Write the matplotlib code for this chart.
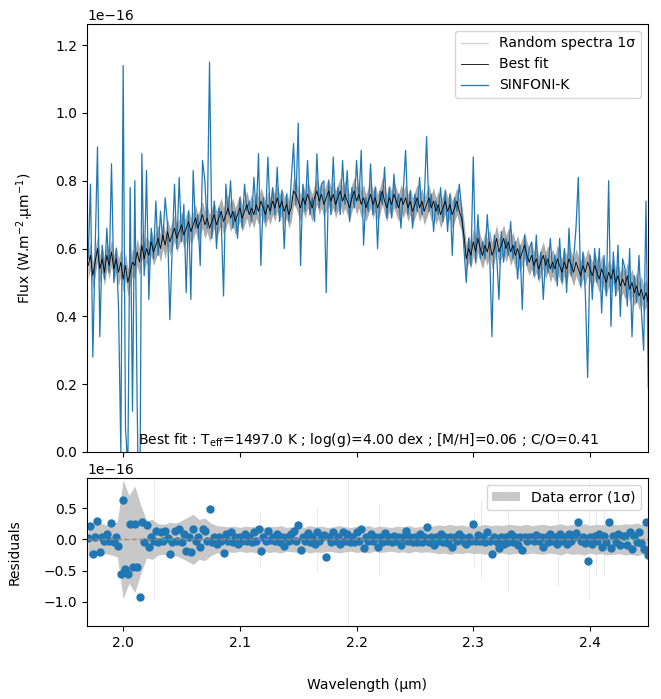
import numpy as np
import matplotlib.pyplot as plt
from matplotlib.lines import Line2D

# wavelength grid of the spectrum (um), 0.002 um sampling
wavelength = np.round(np.arange(1.970, 2.4505, 0.002), 3)

# observed SINFONI-K flux, in units of 1e-16 W.m-2.um-1
flux = [
    0.57, 0.79, 0.28, 0.60, 0.90, 0.34, 0.61, 0.51, 0.66, 0.53,
    0.85, 0.50, 0.60, 0.43, 0.00, 1.14, 0.07, -0.05, 0.78, 0.12,
    0.80, 0.14, -0.36, 0.88, 0.52, 0.83, 0.45, 0.66, 0.57, 0.74,
    0.58, 0.71, 0.62, 0.75, 0.67, 0.39, 0.60, 0.79, 0.60, 0.81,
    0.62, 0.73, 0.47, 0.71, 0.45, 0.83, 0.66, 0.70, 0.55, 0.86,
    0.80, 0.66, 1.15, 0.63, 0.74, 0.60, 0.72, 0.69, 0.46, 0.79,
    0.70, 0.80, 0.66, 0.71, 0.63, 0.75, 0.66, 0.79, 0.71, 0.74,
    0.68, 0.81, 0.70, 0.88, 0.55, 0.75, 0.68, 0.87, 0.70, 0.78,
    0.70, 0.84, 0.68, 0.77, 0.60, 0.76, 0.68, 0.80, 0.91, 0.73,
    0.97, 0.55, 0.79, 0.71, 0.86, 0.70, 0.75, 0.68, 0.88, 0.72,
    0.79, 0.80, 0.47, 0.80, 0.70, 0.87, 0.71, 0.78, 0.70, 0.86,
    0.73, 0.83, 0.68, 0.78, 0.72, 0.86, 0.74, 0.89, 0.61, 0.75,
    0.71, 0.85, 0.70, 0.78, 0.60, 0.77, 0.73, 0.84, 0.69, 0.78,
    0.69, 0.82, 0.72, 0.76, 0.66, 0.77, 0.89, 0.70, 0.77, 0.66,
    0.76, 0.71, 0.81, 0.70, 0.74, 0.93, 0.71, 0.76, 0.65, 0.74,
    0.70, 0.78, 0.68, 0.77, 0.65, 0.76, 0.58, 0.75, 0.71, 0.79,
    0.72, 0.60, 0.50, 0.63, 0.55, 0.87, 0.56, 0.70, 0.57, 0.62,
    0.57, 0.70, 0.59, 0.34, 0.64, 0.58, 0.45, 0.65, 0.56, 0.63,
    0.58, 0.68, 0.57, 0.62, 0.51, 0.61, 0.42, 0.64, 0.55, 0.60,
    0.62, 0.52, 0.64, 0.51, 0.59, 0.45, 0.58, 0.53, 0.63, 0.53,
    0.58, 0.49, 0.63, 0.50, 0.60, 0.47, 0.66, 0.52, 0.57, 0.66,
    0.81, 0.49, 0.59, 0.47, 0.22, 0.58, 0.45, 0.60, 0.50, 0.60,
    0.41, 0.58, 0.46, 0.80, 0.37, 0.59, 0.46, 0.61, 0.40, 0.57,
    0.54, 0.43, 0.60, 0.34, 0.52, 0.44, 0.58, 0.42, 0.30, 0.74,
    0.19,
]

# best fit model on the same grid, 1e-16 units
best_fit = [
    0.55, 0.58, 0.52, 0.56, 0.60, 0.54, 0.57, 0.53, 0.58, 0.55,
    0.59, 0.54, 0.57, 0.53, 0.56, 0.51, 0.55, 0.50, 0.53, 0.56,
    0.55, 0.59, 0.56, 0.61, 0.57, 0.60, 0.58, 0.62, 0.59, 0.61,
    0.63, 0.60, 0.64, 0.61, 0.65, 0.62, 0.64, 0.66, 0.63, 0.65,
    0.67, 0.64, 0.66, 0.68, 0.65, 0.67, 0.69, 0.66, 0.68, 0.70,
    0.67, 0.69, 0.66, 0.68, 0.70, 0.67, 0.69, 0.71, 0.68, 0.70,
    0.72, 0.69, 0.71, 0.68, 0.70, 0.72, 0.69, 0.71, 0.73, 0.70,
    0.72, 0.70, 0.73, 0.71, 0.74, 0.72, 0.70, 0.73, 0.71, 0.74,
    0.72, 0.75, 0.72, 0.74, 0.71, 0.73, 0.70, 0.72, 0.77, 0.76,
    0.74, 0.72, 0.75, 0.73, 0.76, 0.74, 0.72, 0.75, 0.77, 0.74,
    0.76, 0.73, 0.75, 0.77, 0.74, 0.76, 0.73, 0.75, 0.77, 0.74,
    0.76, 0.74, 0.72, 0.75, 0.77, 0.74, 0.76, 0.73, 0.75, 0.72,
    0.74, 0.76, 0.73, 0.75, 0.72, 0.74, 0.77, 0.74, 0.72, 0.75,
    0.73, 0.76, 0.74, 0.72, 0.75, 0.73, 0.75, 0.72, 0.74, 0.71,
    0.73, 0.75, 0.72, 0.74, 0.71, 0.73, 0.75, 0.72, 0.74, 0.71,
    0.73, 0.70, 0.72, 0.74, 0.71, 0.73, 0.70, 0.72, 0.74, 0.71,
    0.69, 0.64, 0.57, 0.60, 0.58, 0.62, 0.59, 0.63, 0.60, 0.58,
    0.61, 0.59, 0.62, 0.58, 0.60, 0.63, 0.59, 0.61, 0.63, 0.60,
    0.62, 0.59, 0.61, 0.58, 0.60, 0.57, 0.59, 0.61, 0.58, 0.56,
    0.58, 0.55, 0.57, 0.54, 0.56, 0.58, 0.55, 0.57, 0.54, 0.56,
    0.54, 0.57, 0.55, 0.53, 0.56, 0.54, 0.57, 0.55, 0.53, 0.56,
    0.54, 0.52, 0.55, 0.53, 0.56, 0.54, 0.52, 0.55, 0.53, 0.51,
    0.54, 0.52, 0.50, 0.53, 0.51, 0.54, 0.50, 0.52, 0.49, 0.51,
    0.49, 0.52, 0.48, 0.50, 0.47, 0.49, 0.46, 0.48, 0.45, 0.47,
    0.44,
]

# spread of the random spectra around the best fit (1 sigma), 1e-16 units
random_sigma = 0.04

# data error (1 sigma), coarse grid, 1e-16 units
err_wl = np.round(np.arange(1.970, 2.4505, 0.005), 3)
err_val = [
    0.26, 0.24, 0.27, 0.23, 0.25, 0.28, 0.95, 0.70, 0.85, 0.55,
    0.30, 0.32, 0.25, 0.24, 0.27, 0.26, 0.30, 0.35, 0.40, 0.32,
    0.34, 0.26, 0.22, 0.21, 0.20, 0.21, 0.19, 0.21, 0.20, 0.22,
    0.19, 0.21, 0.20, 0.22, 0.19, 0.20, 0.21, 0.19, 0.22, 0.20,
    0.21, 0.19, 0.20, 0.22, 0.20, 0.19, 0.21, 0.20, 0.22, 0.19,
    0.21, 0.20, 0.19, 0.21, 0.20, 0.22, 0.19, 0.21, 0.20, 0.21,
    0.23, 0.22, 0.24, 0.22, 0.23, 0.21, 0.23, 0.22, 0.24, 0.22,
    0.23, 0.22, 0.24, 0.23, 0.22, 0.24, 0.22, 0.23, 0.24, 0.22,
    0.23, 0.25, 0.22, 0.24, 0.23, 0.25, 0.22, 0.24, 0.23, 0.25,
    0.24, 0.23, 0.25, 0.24, 0.26, 0.24, 0.25,
]
# isolated pixels with very large errors
err_spike_wl = [2.026, 2.117, 2.166, 2.193, 2.219, 2.301, 2.307, 2.330, 2.373, 2.399, 2.405, 2.412]
err_spike_val = [0.95, 0.45, 0.50, 1.40, 0.57, 0.45, 0.63, 0.84, 0.74, 0.95, 0.57, 0.57]

scale = 1e-16
flux = np.array(flux) * scale
best_fit = np.array(best_fit) * scale
err_val = np.array(err_val) * scale
err_spike_val = np.array(err_spike_val) * scale
residuals = flux - best_fit

fig = plt.figure(figsize=(6.61, 6.99), dpi=100)
ax = fig.add_axes([0.1316, 0.3534, 0.8487, 0.6123])
axr = fig.add_axes([0.1316, 0.1044, 0.8487, 0.2118], sharex=ax)

ax.fill_between(wavelength, best_fit - random_sigma * scale, best_fit + random_sigma * scale,
                color="gray", alpha=0.65, lw=0)
ax.plot(wavelength, flux, color="#1f77b4", lw=0.9)
ax.plot(wavelength, best_fit, color="black", lw=0.6)

handles = [Line2D([], [], color="lightgray", lw=1),
           Line2D([], [], color="black", lw=0.6),
           Line2D([], [], color="#1f77b4", lw=0.9)]
ax.legend(handles, ["Random spectra 1\u03c3", "Best fit", "SINFONI-K"], loc="upper right")
ax.set_xlim(1.969, 2.4497)
ax.set_ylim(0, 1.2625e-16)
ax.set_ylabel("Flux (W.m$^{-2}$.\u00b5m$^{-1}$)", labelpad=14)
ax.tick_params(labelbottom=False)
ax.text(0.091, 0.006, "Best fit : T$_{\\rm eff}$=1497.0 K ; log(g)=4.00 dex ; [M/H]=0.06 ; C/O=0.41",
        transform=ax.transAxes, ha="left", va="bottom")

axr.fill_between(err_wl, -err_val, err_val, color="#c8c8c8", lw=0, label="Data error (1\u03c3)")
axr.vlines(err_spike_wl, -err_spike_val, err_spike_val, color="#c8c8c8", alpha=0.4, lw=0.7)
axr.plot(wavelength, residuals, "o", color="#1f77b4", ms=5)
axr.axhline(0, color="#9a8b7c", ls="--", lw=1)
axr.set_ylim(-1.385e-16, 0.98e-16)
axr.set_ylabel("Residuals", labelpad=16)
axr.set_xlabel("Wavelength (\u00b5m)", labelpad=20)
axr.legend(loc="upper right")

fig.savefig("out.png", dpi=100)
